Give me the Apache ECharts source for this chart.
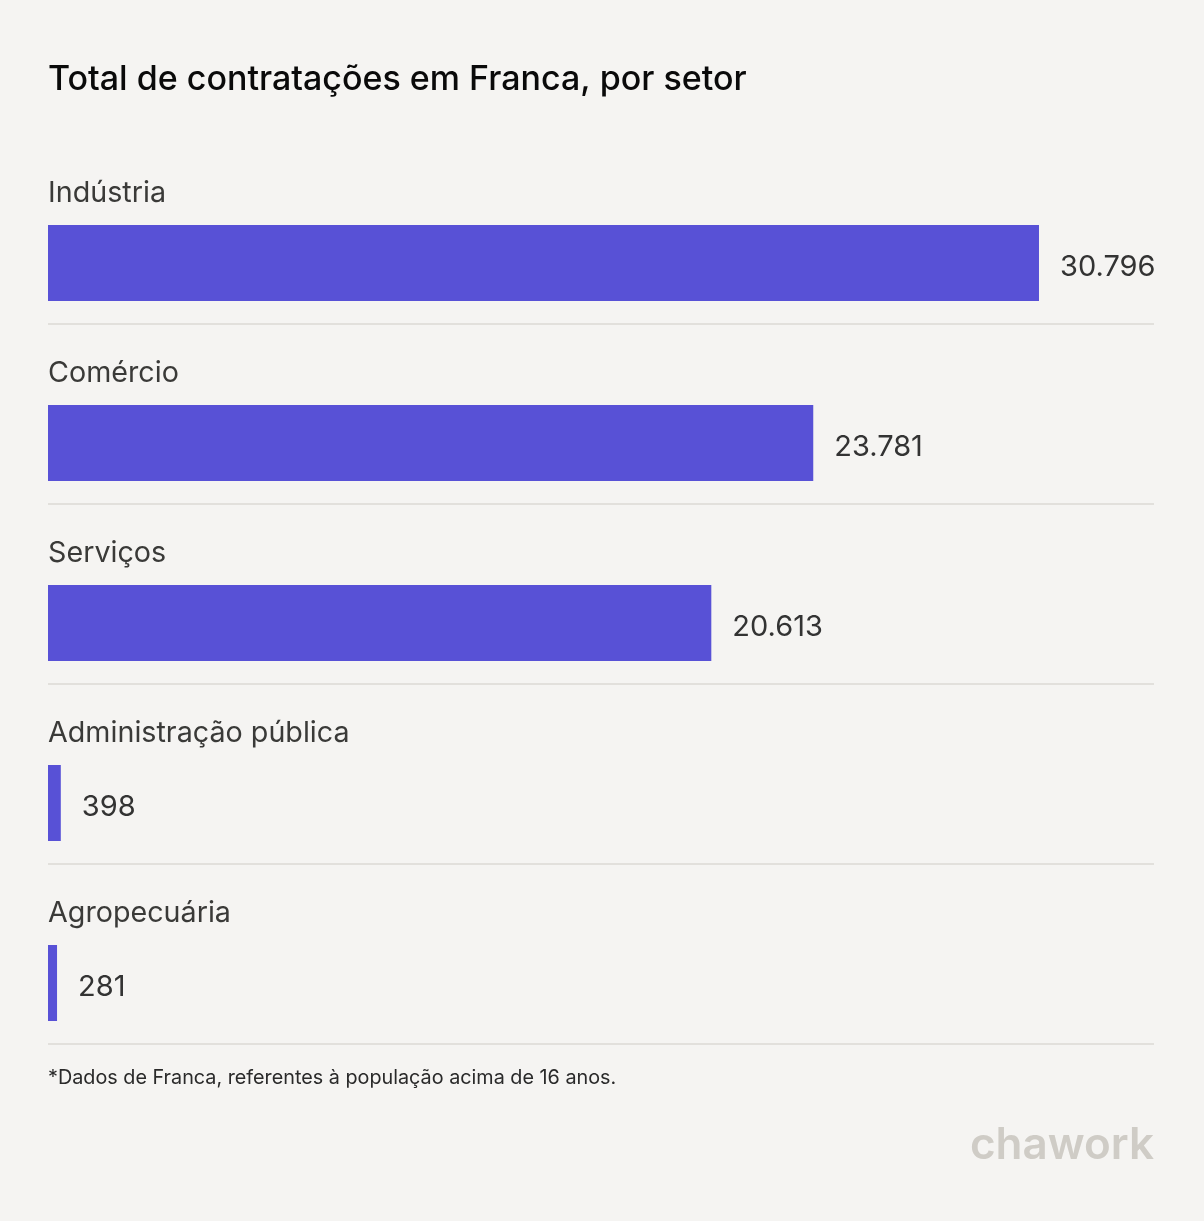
<!DOCTYPE html>
<html>
<head>
<meta charset="utf-8">
<script src="https://cdn.jsdelivr.net/npm/echarts@6/dist/echarts.min.js"></script>
<style>
html,body{margin:0;padding:0;background:#f5f4f2;}
#chart{width:1204px;height:1221px;}
</style>
</head>
<body>
<div id="chart"></div>
<script>
const categories = ['Indústria', 'Comércio', 'Serviços', 'Administração pública', 'Agropecuária'];
const values = [30796, 23781, 20613, 398, 281];
const axisMax = 34370;

function fmt(n) {
  return String(n).replace(/\B(?=(\d{3})+(?!\d))/g, '.');
}

const chart = echarts.init(document.getElementById('chart'));
chart.setOption({
  backgroundColor: '#f5f4f2',
  animation: false,
  title: {
    text: 'Total de contratações em Franca, por setor',
    left: 48,
    top: 63,
    padding: 0,
    textStyle: { fontFamily: 'Inter', fontSize: 34, fontWeight: 500, color: '#0a0a0a' }
  },
  grid: { left: 48, top: 144, width: 1106, height: 900 },
  xAxis: {
    type: 'value', min: 0, max: axisMax,
    show: false
  },
  yAxis: {
    type: 'category',
    data: categories,
    inverse: true,
    axisLine: { show: false },
    axisTick: { show: false },
    axisLabel: { show: false },
    splitLine: {
      show: true,
      lineStyle: { color: ['rgba(0,0,0,0)', '#e2e0dc', '#e2e0dc', '#e2e0dc', '#e2e0dc', '#e2e0dc'], width: 2 }
    }
  },
  series: [
    {
      type: 'bar',
      data: values,
      barWidth: 58,
      barGap: '0%',
      itemStyle: { color: 'rgba(0,0,0,0)' },
      silent: true,
      label: {
        show: true,
        position: [0, 26],
        align: 'left',
        verticalAlign: 'middle',
        formatter: '{b}',
        fontFamily: 'Inter',
        fontSize: 28.7,
        color: '#3a3a38'
      }
    },
    {
      type: 'bar',
      data: values,
      barWidth: 76,
      itemStyle: { color: '#5851d6' },
      silent: true,
      label: {
        show: true,
        position: 'right',
        distance: 21,
        offset: [0, 4],
        formatter: p => fmt(p.value),
        fontFamily: 'Inter',
        fontSize: 29,
        color: '#333333'
      }
    }
  ],
  graphic: [
    {
      type: 'text', left: 48, top: 1068,
      style: { text: '*Dados de Franca, referentes à população acima de 16 anos.', font: '19.8px Inter', fill: '#2a2a2a' }
    },
    {
      type: 'text', right: 50, top: 1124,
      style: { text: 'chawork', font: '600 44px Inter', fill: '#cfccc6' }
    }
  ]
});
</script>
</body>
</html>
